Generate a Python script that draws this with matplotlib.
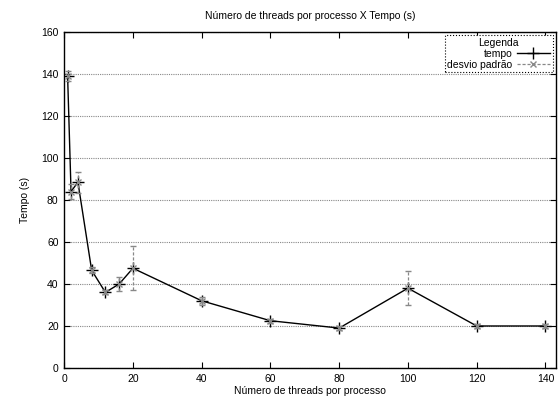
import matplotlib
matplotlib.use("Agg")
import matplotlib.pyplot as plt
from matplotlib.lines import Line2D

plt.rcParams['font.family'] = ['Liberation Sans', 'DejaVu Sans']

# data
threads = [1, 2, 4, 8, 12, 16, 20, 40, 60, 80, 100, 120, 140]
tempo = [139, 84, 88.5, 46.5, 36, 40, 47.5, 32, 22.5, 19, 38, 20, 20]
desvio = [2.5, 3.5, 5, 1.5, 1, 3.5, 10.5, 2, 1, 1, 8, 0.8, 0.8]

yticks = [0, 20, 40, 60, 80, 100, 120, 140, 160]
xticks = [0, 20, 40, 60, 80, 100, 120, 140]

fig = plt.figure(figsize=(5.58, 4.05), dpi=100)
ax = fig.add_axes([0.115, 0.0914, 0.881, 0.8296])

# mean time line
ax.plot(threads, tempo, color='black', lw=1.0, marker='+', markersize=8,
        mew=1.0, zorder=2)

# standard deviation bars (gray, dashed), drawn over the line markers
eb = ax.errorbar(threads, tempo, yerr=desvio, fmt='x', color='#888888',
                 ecolor='#888888', elinewidth=0.9, capsize=2, capthick=0.9,
                 markersize=5, mew=1.0, zorder=3)
for bar in eb[2]:
    bar.set_linestyle((0, (2.5, 1.5)))

ax.set_xlim(0, 143)
ax.set_ylim(0, 160)
ax.set_xticks(xticks)
ax.set_yticks(yticks)
ax.yaxis.grid(True, linestyle=(0, (1, 1)), color='#888888', lw=0.8)
ax.set_axisbelow(True)
ax.tick_params(direction='in', top=True, right=True, labelsize=7.5,
               length=4, width=0.8, pad=4)
for s in ax.spines.values():
    s.set_linewidth(1.0)

ax.set_title('Número de threads por processo X Tempo (s)', fontsize=7.5, pad=9)
ax.set_xlabel('Número de threads por processo', fontsize=7.5, labelpad=2)
ax.set_ylabel('Tempo (s)', fontsize=7.5, labelpad=8)

h_tempo = Line2D([], [], color='black', lw=1.0, marker='+', markersize=9)
h_desvio = Line2D([], [], color='#888888', lw=0.9, linestyle=(0, (2.5, 1.5)),
                  marker='x', markersize=4)
leg = ax.legend([h_tempo, h_desvio], ['tempo', 'desvio padrão'],
                title='Legenda', loc='upper right', markerfirst=False,
                fontsize=7.5, title_fontsize=7.5, handlelength=3.2,
                borderpad=0.25, labelspacing=0.1, handletextpad=0.4,
                fancybox=False, framealpha=1, borderaxespad=0.3)
leg.get_frame().set_linestyle(':')
leg.get_frame().set_edgecolor('black')
leg.get_frame().set_linewidth(0.8)

fig.savefig('out.png', dpi=100)
